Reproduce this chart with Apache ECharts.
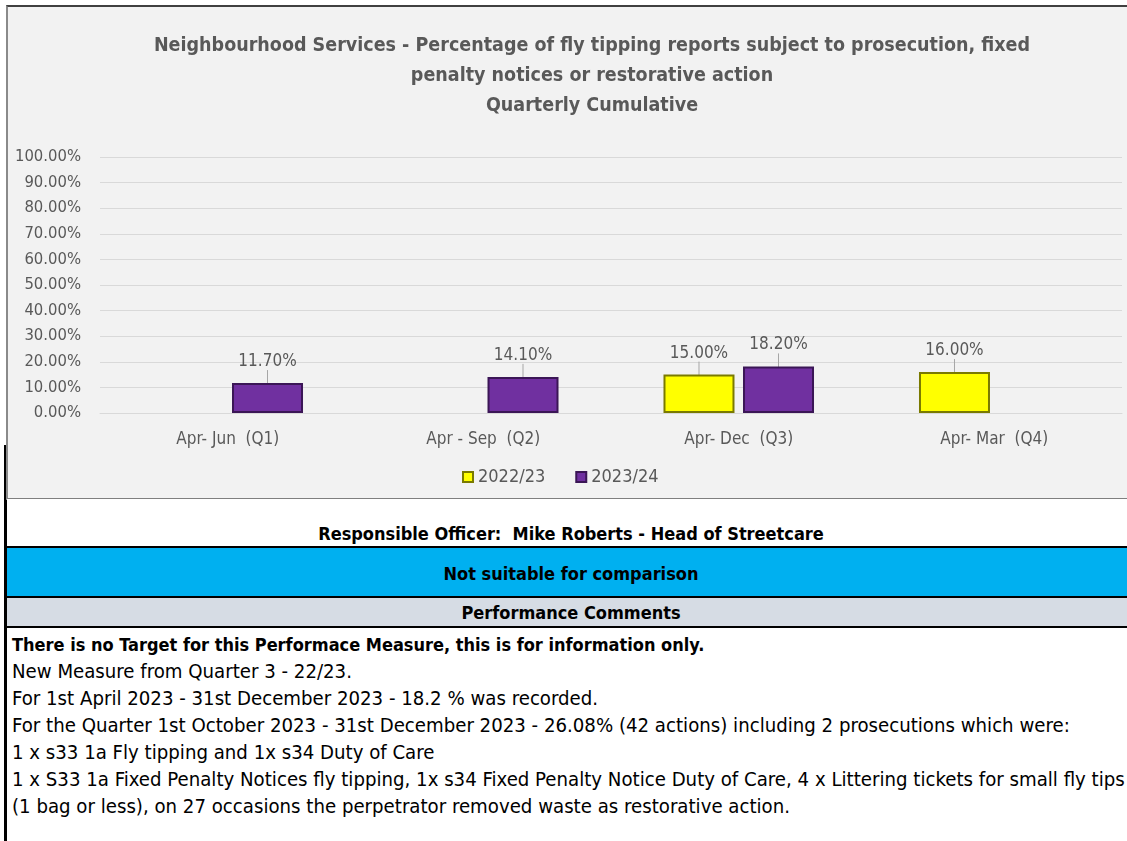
<!DOCTYPE html>
<html>
<head>
<meta charset="utf-8">
<script src="https://cdn.jsdelivr.net/npm/echarts@6/dist/echarts.min.js"></script>
<style>
  html, body { margin: 0; padding: 0; background: #fff; overflow: hidden; }
  body { width: 1127px; height: 841px; position: relative; font-family: "DejaVu Sans Condensed", "DejaVu Sans", sans-serif; }
  #chartBox { position: absolute; left: 6px; top: 5px; width: 1180px; height: 491px; background: #f2f2f2;
    border-top: 2px solid #404040; border-left: 2px solid #8a8a8a; border-bottom: 2px solid #7f7f7f; }
  #chart { position: absolute; left: 0; top: 0; width: 1168px; height: 491px; }
  .leftRule { position: absolute; left: 4px; top: 445px; width: 3px; height: 400px; background: #000; }
  .band { position: absolute; left: 7px; width: 1128px; text-align: center; font-weight: bold; color: #000; font-size: 18px; }
  .rule { position: absolute; left: 7px; width: 1128px; height: 2px; background: #000; }
  #comments { position: absolute; left: 12px; top: 631px; font-size: 20.2px; line-height: 27px; color: #000; white-space: nowrap; }
</style>
</head>
<body>
<div class="leftRule"></div>
<div id="chartBox"><div id="chart"></div></div>

<div class="band" style="top:499px;height:47px;background:#fff;line-height:70px;">Responsible Officer:&nbsp; Mike Roberts - Head of Streetcare</div>
<div class="rule" style="top:546px;"></div>
<div class="band" style="top:548px;height:48px;background:#00b0f0;line-height:52px;">Not suitable for comparison</div>
<div class="rule" style="top:596px;"></div>
<div class="band" style="top:598px;height:28px;background:#d6dce4;line-height:30px;">Performance Comments</div>
<div class="rule" style="top:626px;"></div>

<div id="comments">
  <div style="font-weight:bold;font-size:18px;">There is no Target for this Performace Measure, this is for information only.</div>
  <div>New Measure from Quarter 3 - 22/23.</div>
  <div>For 1st April 2023 - 31st December 2023 - 18.2 % was recorded.</div>
  <div>For the Quarter 1st October 2023 - 31st December 2023 - 26.08% (42 actions) including 2 prosecutions which were:</div>
  <div>1 x s33 1a Fly tipping and 1x s34 Duty of Care</div>
  <div>1 x S33 1a Fixed Penalty Notices fly tipping, 1x s34 Fixed Penalty Notice Duty of Care, 4 x Littering tickets for small fly tips</div>
  <div>(1 bag or less), on 27 occasions the perpetrator removed waste as restorative action.</div>
</div>

<script>
const categories = ['Apr- Jun  (Q1)', 'Apr - Sep  (Q2)', 'Apr- Dec  (Q3)', 'Apr- Mar  (Q4)'];
const seriesNames = ['2022/23', '2023/24'];
const values2223 = [null, null, 15.0, 16.0];
const values2324 = [11.7, 14.1, 18.2, null];
const yTicks = [0, 10, 20, 30, 40, 50, 60, 70, 80, 90, 100];

const FONT = '"DejaVu Sans Condensed", "DejaVu Sans", sans-serif';
const GREY = '#595959';

function barSeries(name, data, fill, edge) {
    return {
        name: name,
        type: 'bar',
        data: data,
        barWidth: 71,
        barGap: '12%',
        itemStyle: { color: fill, borderColor: edge, borderWidth: 2 },
        label: {
            show: true,
            position: 'top',
            distance: 4,
            formatter: p => p.value.toFixed(2) + '%',
            color: GREY,
            fontFamily: FONT,
            fontSize: 17
        },
        labelLayout: { dy: -9 },
        labelLine: { show: true, lineStyle: { color: '#a6a6a6', width: 1 } }
    };
}

let chart = echarts.init(document.getElementById('chart'));
chart.setOption({
    animation: false,
    title: {
        text: 'Neighbourhood Services - Percentage of fly tipping reports subject to prosecution, fixed\npenalty notices or restorative action\nQuarterly Cumulative',
        left: 'center',
        top: 19,
        textStyle: { fontFamily: FONT, fontSize: 19.5, fontWeight: 'bold', color: GREY, lineHeight: 30 }
    },
    legend: {
        left: 449,
        top: 456,
        itemWidth: 10,
        itemHeight: 10,
        itemGap: 30,
        icon: 'rect',
        textStyle: { fontFamily: FONT, fontSize: 18, color: GREY },
        data: seriesNames
    },
    grid: { left: 92, top: 150, width: 1022, height: 256, containLabel: false },
    xAxis: {
        type: 'category',
        data: categories,
        axisLine: { lineStyle: { color: '#d9d9d9' } },
        axisTick: { show: false },
        axisLabel: { color: GREY, fontFamily: FONT, fontSize: 17, margin: 18 }
    },
    yAxis: {
        type: 'value',
        min: yTicks[0],
        max: yTicks[yTicks.length - 1],
        interval: 10,
        axisLine: { show: false },
        axisTick: { show: false },
        splitLine: { lineStyle: { color: '#d9d9d9' } },
        axisLabel: { color: GREY, fontFamily: FONT, fontSize: 16.5, margin: 19, formatter: v => v.toFixed(2) + '%' }
    },
    series: [
        barSeries(seriesNames[0], values2223, '#ffff00', '#7a7a00'),
        barSeries(seriesNames[1], values2324, '#7030a0', '#3b1656')
    ]
});
</script>
</body>
</html>
